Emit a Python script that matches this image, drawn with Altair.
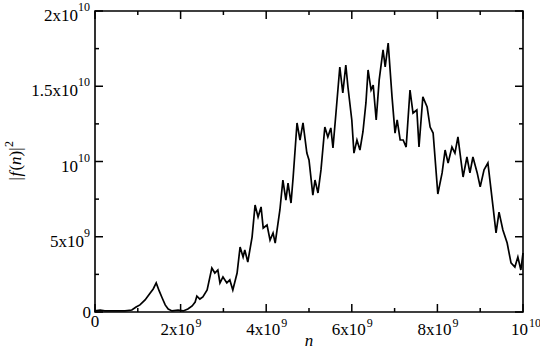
import altair as alt
import pandas as pd

# |f(n)|^2 curve (both in units of 1e9)
n_vals = [0, 0.12, 0.23, 0.47, 0.70, 0.86, 0.96, 1.05, 1.17, 1.29, 1.36, 1.43, 1.50, 1.57, 1.64,
          1.71, 1.80, 1.94, 2.06, 2.17, 2.27, 2.34, 2.38, 2.45, 2.52, 2.62, 2.73, 2.80, 2.87, 2.92,
          2.99, 3.08, 3.15, 3.22, 3.32, 3.39, 3.46, 3.50, 3.57, 3.67, 3.74, 3.81, 3.88, 3.93, 4.02,
          4.09, 4.16, 4.21, 4.32, 4.39, 4.46, 4.51, 4.58, 4.63, 4.72, 4.79, 4.86, 4.95, 5.00, 5.09,
          5.14, 5.21, 5.28, 5.37, 5.44, 5.51, 5.56, 5.63, 5.72, 5.79, 5.86, 5.91, 6.00, 6.05, 6.12,
          6.19, 6.26, 6.33, 6.38, 6.45, 6.50, 6.57, 6.64, 6.73, 6.78, 6.85, 6.94, 7.01, 7.06, 7.13,
          7.20, 7.27, 7.36, 7.43, 7.52, 7.57, 7.66, 7.76, 7.83, 7.90, 8.01, 8.11, 8.18, 8.25, 8.34,
          8.41, 8.48, 8.60, 8.69, 8.76, 8.83, 8.93, 9.00, 9.09, 9.18, 9.30, 9.37, 9.44, 9.53, 9.63,
          9.72, 9.81, 9.88, 9.95, 10.0]
f2_vals = [0.07, 0.13, 0.07, 0.07, 0.07, 0.13, 0.33, 0.47, 0.80, 1.26, 1.53, 1.93, 1.40, 0.93, 0.47,
           0.20, 0.07, 0.13, 0.07, 0.20, 0.40, 0.66, 1.06, 0.86, 1.00, 1.46, 2.92, 2.59, 2.79, 1.93,
           2.33, 1.93, 2.13, 1.46, 2.59, 4.32, 3.65, 4.12, 3.32, 4.98, 7.11, 6.31, 6.98, 5.58, 5.78,
           4.78, 5.25, 4.58, 6.78, 8.77, 7.44, 8.57, 7.24, 8.97, 12.56, 11.43, 12.56, 10.56, 10.10, 7.77,
           8.77, 7.91, 9.44, 12.29, 11.63, 12.23, 10.90, 13.22, 16.28, 14.55, 16.41, 14.95, 12.76, 10.56, 11.43,
           10.76, 11.96, 13.89, 16.08, 14.75, 15.08, 12.76, 15.42, 17.41, 16.28, 17.87, 14.29, 11.89, 12.76, 11.43,
           11.43, 10.96, 14.75, 13.22, 13.42, 10.96, 14.29, 13.62, 12.29, 11.89, 7.84, 9.24, 10.76, 9.90, 10.96,
           10.56, 11.63, 8.97, 10.30, 9.24, 10.30, 9.24, 8.31, 9.44, 9.90, 6.98, 5.25, 6.64, 5.45, 4.58,
           3.26, 2.99, 3.65, 2.79, 3.92]

# ticks (units of 1e9)
x_major = [0, 2, 4, 6, 8, 10]
x_minor = [1, 3, 5, 7, 9]
y_major = [0, 5, 10, 15, 20]
y_minor = [2.5, 7.5, 12.5, 17.5]

# tick labels: mantissa + superscript exponent
x_lab_vals = [2, 4, 6, 8]
x_lab_mant = ["2x10", "4x10", "6x10", "8x10"]
x_lab_exp = ["9", "9", "9", "9"]
x_end_val = [10]
x_end_mant = ["10"]
x_end_exp = ["10"]
x_zero_val = [0]
x_zero_text = ["0"]

y_lab10_vals = [20, 15, 10]
y_lab10_mant = ["2x10", "1.5x10", "10"]
y_lab10_exp = ["10", "10", "10"]
y_lab9_vals = [5]
y_lab9_mant = ["5x10"]
y_lab9_exp = ["9"]
y_zero_val = [0]
y_zero_text = ["0"]

W, H = 428, 301
FONT = "Liberation Serif, Times New Roman, Times, serif"
SCALE = 1e9
xs = alt.Scale(domain=[0, 10 * SCALE], nice=False, zero=False)
ys = alt.Scale(domain=[0, 20 * SCALE], nice=False, zero=False)


def X(field="x"):
    return alt.X(f"{field}:Q", scale=xs, axis=None)


def Y(field="y"):
    return alt.Y(f"{field}:Q", scale=ys, axis=None)


curve_df = pd.DataFrame({"x": [v * SCALE for v in n_vals], "y": [v * SCALE for v in f2_vals]})
curve = alt.Chart(curve_df).mark_line(color="black", strokeWidth=1.7).encode(x=X(), y=Y())

layers = [curve]

# inward ticks on all four sides
for vals, L in ((x_major, 8), (x_minor, 4)):
    df = pd.DataFrame({"x": [v * SCALE for v in vals]})
    base = alt.Chart(df).mark_rule(color="black", strokeWidth=1.5)
    layers.append(base.encode(x=X(), y=alt.value(H), y2=alt.value(H - L)))
    layers.append(base.encode(x=X(), y=alt.value(0), y2=alt.value(L)))
for vals, L in ((y_major, 8), (y_minor, 4)):
    df = pd.DataFrame({"y": [v * SCALE for v in vals]})
    base = alt.Chart(df).mark_rule(color="black", strokeWidth=1.5)
    layers.append(base.encode(y=Y(), x=alt.value(0), x2=alt.value(L)))
    layers.append(base.encode(y=Y(), x=alt.value(W), x2=alt.value(W - L)))


def xlabel(vals, texts, align, dx, dy, size):
    df = pd.DataFrame({"x": [v * SCALE for v in vals], "t": texts})
    return alt.Chart(df).mark_text(font=FONT, fontSize=size, color="black", align=align,
                                   baseline="alphabetic", dx=dx).encode(
        x=X(), y=alt.value(H + dy), text="t:N")


def ylabel(vals, texts, align, dx, dy, size):
    df = pd.DataFrame({"y": [v * SCALE for v in vals], "t": texts})
    return alt.Chart(df).mark_text(font=FONT, fontSize=size, color="black", align=align,
                                   baseline="alphabetic", dx=dx, dy=dy).encode(
        y=Y(), x=alt.value(0), text="t:N")


MS, ES = 17, 12
layers += [
    xlabel(x_lab_vals, x_lab_mant, "right", 14, 23, MS),
    xlabel(x_lab_vals, x_lab_exp, "left", 15, 15, ES),
    xlabel(x_end_val, x_end_mant, "right", 5, 23, MS),
    xlabel(x_end_val, x_end_exp, "left", 6, 15, ES),
    xlabel(x_zero_val, x_zero_text, "center", 0, 15, MS),
    ylabel(y_lab10_vals, y_lab10_mant, "right", -17, 10, MS),
    ylabel(y_lab10_vals, y_lab10_exp, "right", -5, 0, ES),
    ylabel(y_lab9_vals, y_lab9_mant, "right", -11, 10, MS),
    ylabel(y_lab9_vals, y_lab9_exp, "right", -5, 0, ES),
    ylabel(y_zero_val, y_zero_text, "right", -4, 6, MS),
]

# axis titles
title_df = pd.DataFrame({"k": [0]})
layers.append(alt.Chart(title_df).mark_text(font=FONT, fontSize=17, fontStyle="italic", color="black",
                                            align="center", baseline="alphabetic").encode(
    x=alt.value(W / 2), y=alt.value(H + 34), text=alt.value("n")))

segs = [("|", "normal", 0, 0, 17), ("f", "italic", 4, 0, 17), ("(", "normal", 10, 0, 17),
        ("n", "italic", 15.5, 0, 17), (")|", "normal", 24, 0, 17), ("2", "normal", 33.5, -8, 12)]
for txt, style, dx, dy, size in segs:
    layers.append(alt.Chart(title_df).mark_text(font=FONT, fontSize=size, fontStyle=style, color="black",
                                                align="left", baseline="alphabetic", angle=270,
                                                dx=dx, dy=dy).encode(
        x=alt.value(-74), y=alt.value(H / 2 + 19), text=alt.value(txt)))

chart = alt.layer(*layers).properties(
    width=W, height=H,
    autosize=alt.AutoSizeParams(type="none"),
    padding={"left": 95, "top": 11, "right": 17, "bottom": 37},
    background="white",
).configure_view(stroke="black", strokeWidth=1.6)

chart.save("out.html", embed_options={"renderer": "svg", "actions": False})
